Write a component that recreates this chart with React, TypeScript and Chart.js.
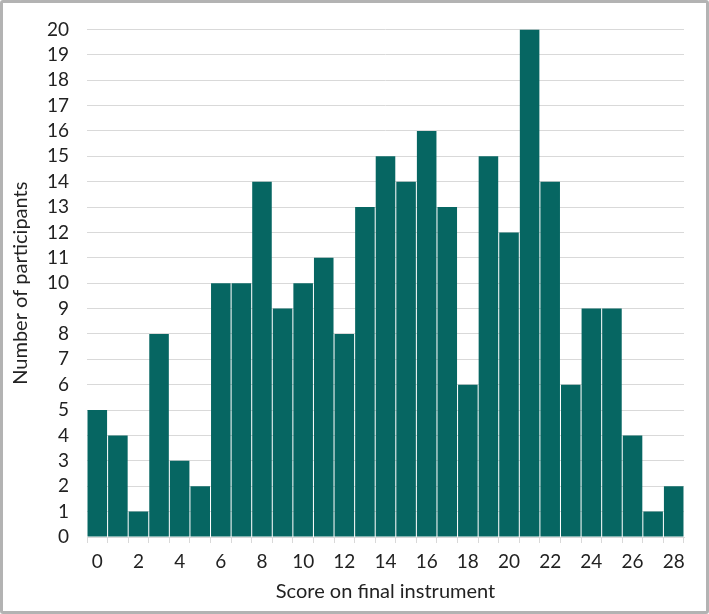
import React, { useEffect, useRef } from "react";
import { Chart, registerables } from "chart.js";

Chart.register(...registerables);

const scores: string[] = [
  "0", "1", "2", "3", "4", "5", "6", "7", "8", "9", "10", "11", "12", "13", "14",
  "15", "16", "17", "18", "19", "20", "21", "22", "23", "24", "25", "26", "27", "28",
];
const participants: number[] = [
  5, 4, 1, 8, 3, 2, 10, 10, 14, 9, 10, 11, 8, 13, 15,
  14, 16, 13, 6, 15, 12, 20, 14, 6, 9, 9, 4, 1, 2,
];
const yMax = 20;
const xTitle = "Score on final instrument";
const yTitle = "Number of participants";

export default function App() {
  const ref = useRef<HTMLCanvasElement | null>(null);

  useEffect(() => {
    document.body.style.margin = "0";
    const canvas = ref.current;
    if (!canvas) return;
    const font = { family: "Lato, 'Open Sans', sans-serif", size: 19 };
    const titleFont = { family: "Lato, 'Open Sans', sans-serif", size: 20 };
    const chart = new Chart(canvas, {
      type: "bar",
      data: {
        labels: scores,
        datasets: [
          {
            data: participants,
            backgroundColor: "#066662",
            borderWidth: 0,
            barPercentage: 0.95,
            categoryPercentage: 1,
          },
        ],
      },
      options: {
        animation: false,
        responsive: false,
        maintainAspectRatio: false,
        layout: { padding: { left: 0, right: 25, top: 19, bottom: 10 } },
        plugins: { legend: { display: false }, tooltip: { enabled: false } },
        scales: {
          x: {
            grid: {
              drawOnChartArea: false,
              drawTicks: true,
              tickLength: 6,
              color: "#d9d9d9",
              offset: true,
            },
            border: { display: true, color: "#d9d9d9", width: 1 },
            ticks: {
              autoSkip: false,
              maxRotation: 0,
              color: "#222",
              font,
              padding: 7,
              callback: (_v: any, i: number) => (i % 2 === 0 ? scores[i] : ""),
            },
            title: {
              display: true,
              text: xTitle,
              color: "#222",
              font: titleFont,
              padding: 0,
            },
            afterFit: (s: any) => {
              s.height = 67;
            },
          },
          y: {
            min: 0,
            max: yMax,
            grid: { color: "#d9d9d9", drawTicks: false, lineWidth: 1 },
            border: { display: false },
            ticks: { stepSize: 1, autoSkip: false, color: "#222", font, padding: 18 },
            title: {
              display: true,
              text: yTitle,
              color: "#222",
              font: titleFont,
              padding: { top: 9, bottom: 0 },
            },
            afterFit: (s: any) => {
              s.width = 87;
            },
          },
        },
      },
    });
    return () => chart.destroy();
  }, []);

  return (
    <div style={{ position: "absolute", left: 0, top: 0, width: 709, height: 614, background: "#fff" }}>
      <canvas ref={ref} width={709} height={614} style={{ display: "block", width: 709, height: 614 }} />
      <div
        style={{
          position: "absolute",
          left: 0,
          top: 0,
          width: 709,
          height: 614,
          boxSizing: "border-box",
          border: "3px solid #b3b3b3",
          borderRadius: 3,
          pointerEvents: "none",
        }}
      />
    </div>
  );
}
